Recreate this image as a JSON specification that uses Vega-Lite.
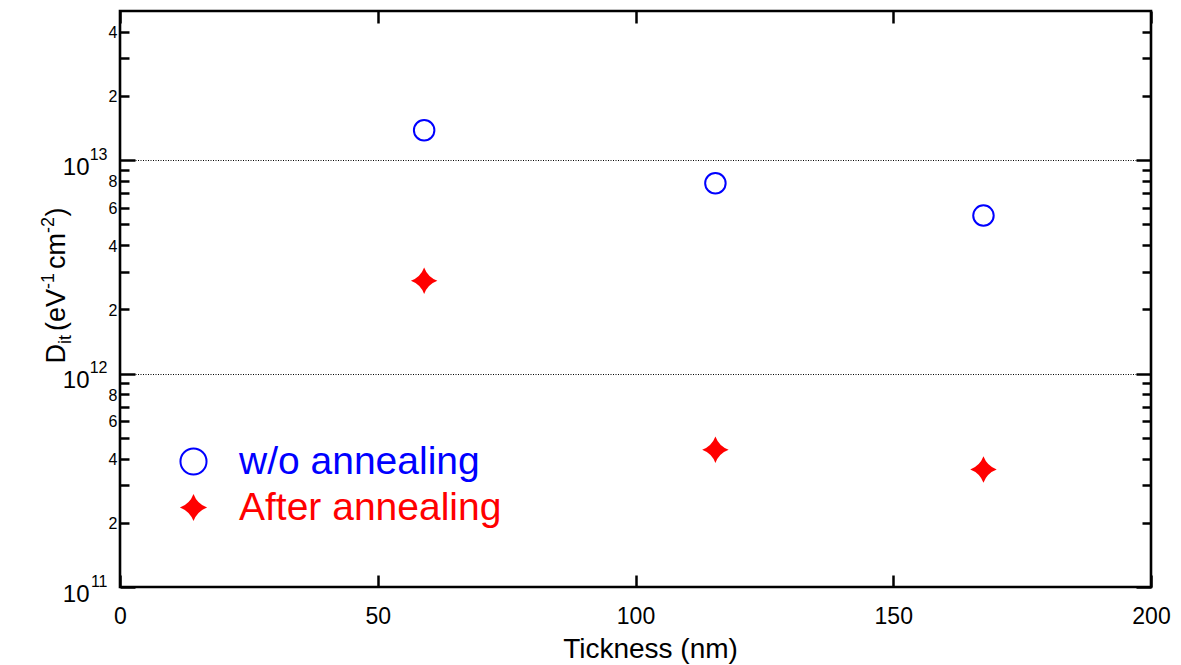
{
  "$schema": "https://vega.github.io/schema/vega-lite/v6.json",
  "autosize": {"type": "none"},
  "padding": {"left": 120, "top": 11, "right": 30, "bottom": 78},
  "width": 1031,
  "height": 576,
  "config": {
    "view": {"stroke": "#000", "strokeWidth": 2.6},
    "font": "Liberation Sans",
    "axis": {"labelFont": "Liberation Sans", "titleFont": "Liberation Sans", "labelColor": "#000", "titleColor": "#000", "titleFontWeight": "normal", "labelFlush": false, "labelOverlap": false, "labelBound": false}
  },
  "data": {"values": [
    {"t": 59, "dit": 1.38e13, "series": "w/o annealing"},
    {"t": 115.5, "dit": 7.8e12, "series": "w/o annealing"},
    {"t": 167.5, "dit": 5.5e12, "series": "w/o annealing"},
    {"t": 59, "dit": 2.72e12, "series": "After annealing"},
    {"t": 115.5, "dit": 4.4e11, "series": "After annealing"},
    {"t": 167.5, "dit": 3.55e11, "series": "After annealing"}
  ]},
  "resolve": {"scale": {"x": "shared", "y": "shared", "color": "independent", "shape": "independent"}, "axis": {"x": "independent", "y": "independent"}, "legend": {"color": "independent", "shape": "independent"}},
  "layer": [
    {
      "transform": [{"filter": "datum.series === 'w/o annealing'"}],
      "mark": {"type": "point", "filled": false, "size": 420, "strokeWidth": 2, "opacity": 1},
      "encoding": {
        "x": {"field": "t", "type": "quantitative", "scale": {"type": "linear", "domain": [0, 200], "nice": false, "zero": false},
          "axis": {"orient": "bottom", "values": [0, 50, 100, 150, 200], "tickSize": -12, "tickWidth": 2.5, "tickColor": "#000", "domain": false, "grid": false, "labelFontSize": 23, "labelPadding": 30, "title": "Tickness (nm)", "titleFontSize": 28, "titleX": 530, "titleY": 70, "titleBaseline": "alphabetic", "titleAlign": "center"}},
        "y": {"field": "dit", "type": "quantitative", "scale": {"type": "log", "domain": [1e11, 5e13], "nice": false},
          "axis": {"orient": "left",
            "values": [1e11, 2e11, 3e11, 4e11, 5e11, 6e11, 7e11, 8e11, 9e11, 1e12, 2e12, 3e12, 4e12, 5e12, 6e12, 7e12, 8e12, 9e12, 1e13, 2e13, 3e13, 4e13],
            "labelExpr": "abs(log(datum.value)/LN10 - round(log(datum.value)/LN10)) < 0.001 ? '10' : (round(datum.value / pow(10, floor(log(datum.value)/LN10 + 0.001))) % 2 == 0 ? '' + round(datum.value / pow(10, floor(log(datum.value)/LN10 + 0.001))) : '')",
            "tickSize": {"condition": {"test": "abs(log(datum.value)/LN10 - round(log(datum.value)/LN10)) < 0.001", "value": -15}, "value": -9},
            "labelPadding": {"condition": {"test": "abs(log(datum.value)/LN10 - round(log(datum.value)/LN10)) < 0.001", "value": 46}, "value": 12},
            "labelFontSize": {"condition": {"test": "abs(log(datum.value)/LN10 - round(log(datum.value)/LN10)) < 0.001", "value": 24}, "value": 16},
            "labelOffset": {"condition": {"test": "abs(log(datum.value)/LN10 - round(log(datum.value)/LN10)) < 0.001", "value": 7}, "value": 1},
            "gridOpacity": {"condition": {"test": "abs(log(datum.value)/LN10 - round(log(datum.value)/LN10)) < 0.001", "value": 1}, "value": 0},
            "tickWidth": 2.5, "tickColor": "#000", "domain": false, "labelBaseline": "middle", "labelAlign": "right",
            "grid": true, "gridColor": "#000", "gridWidth": 1, "gridDash": [1, 1.5],
            "title": "D", "titleFontSize": 27, "titleX": -56, "titleY": 352, "titleAngle": 270, "titleAlign": "left", "titleBaseline": "alphabetic"}},
        "shape": {"field": "series", "type": "nominal", "scale": {"domain": ["w/o annealing"], "range": ["circle"]},
          "legend": {"title": null, "orient": "none", "legendX": 54, "legendY": 431, "symbolSize": 680, "labelFontSize": 39, "labelFont": "Liberation Sans", "labelColor": "#0000ff", "labelOffset": 26, "padding": 0, "symbolStrokeWidth": 2, "labelLimit": 0}},
        "color": {"field": "series", "type": "nominal", "scale": {"domain": ["w/o annealing"], "range": ["#0000ff"]},
          "legend": {"title": null, "orient": "none", "legendX": 54, "legendY": 431, "symbolSize": 680, "labelFontSize": 39, "labelFont": "Liberation Sans", "labelColor": "#0000ff", "labelOffset": 26, "padding": 0, "symbolStrokeWidth": 2, "labelLimit": 0}}
      }
    },
    {
      "transform": [{"filter": "datum.series === 'After annealing'"}],
      "mark": {"type": "point", "filled": true, "size": 700, "opacity": 1},
      "encoding": {
        "x": {"field": "t", "type": "quantitative", "scale": {"type": "linear", "domain": [0, 200], "nice": false, "zero": false}, "axis": null},
        "y": {"field": "dit", "type": "quantitative", "scale": {"type": "log", "domain": [1e11, 5e13], "nice": false}, "axis": null},
        "shape": {"field": "series", "type": "nominal", "scale": {"domain": ["After annealing"], "range": ["M0,-1 Q0.27,-0.27 1,0 Q0.27,0.27 0,1 Q-0.27,0.27 -1,0 Q-0.27,-0.27 0,-1 Z"]},
          "legend": {"title": null, "orient": "none", "legendX": 54, "legendY": 477, "symbolSize": 740, "labelFontSize": 39, "labelFont": "Liberation Sans", "labelColor": "#ff0000", "labelOffset": 26, "padding": 0, "labelLimit": 0}},
        "color": {"field": "series", "type": "nominal", "scale": {"domain": ["After annealing"], "range": ["#ff0000"]},
          "legend": {"title": null, "orient": "none", "legendX": 54, "legendY": 477, "symbolSize": 740, "labelFontSize": 39, "labelFont": "Liberation Sans", "labelColor": "#ff0000", "labelOffset": 26, "padding": 0, "labelLimit": 0}}
      }
    },
    {
      "mark": {"type": "point", "opacity": 0},
      "encoding": {
        "x": {"field": "t", "type": "quantitative", "scale": {"type": "linear", "domain": [0, 200], "nice": false, "zero": false}, "axis": null},
        "y": {"field": "dit", "type": "quantitative", "scale": {"type": "log", "domain": [1e11, 5e13], "nice": false},
          "axis": {"orient": "left", "values": [1e11, 1e12, 1e13], "labelExpr": "'' + round(log(datum.value)/LN10)", "ticks": false, "domain": false, "grid": false, "labelPadding": 13, "labelFontSize": 16, "labelOffset": -6, "labelBaseline": "middle", "labelAlign": "right",
            "title": "it", "titleFontSize": 18, "titleX": -50, "titleY": 332.5, "titleAngle": 270, "titleAlign": "left", "titleBaseline": "alphabetic"}}
      }
    },
    {
      "mark": {"type": "point", "opacity": 0},
      "encoding": {
        "x": {"field": "t", "type": "quantitative", "scale": {"type": "linear", "domain": [0, 200], "nice": false, "zero": false}, "axis": null},
        "y": {"field": "dit", "type": "quantitative", "scale": {"type": "log", "domain": [1e11, 5e13], "nice": false},
          "axis": {"orient": "left", "labels": false, "ticks": false, "domain": false, "grid": false, "title": "(eV", "titleFontSize": 27, "titleX": -56, "titleY": 319.5, "titleAngle": 270, "titleAlign": "left", "titleBaseline": "alphabetic"}}
      }
    },
    {
      "mark": {"type": "point", "opacity": 0},
      "encoding": {
        "x": {"field": "t", "type": "quantitative", "scale": {"type": "linear", "domain": [0, 200], "nice": false, "zero": false}, "axis": null},
        "y": {"field": "dit", "type": "quantitative", "scale": {"type": "log", "domain": [1e11, 5e13], "nice": false},
          "axis": {"orient": "left", "labels": false, "ticks": false, "domain": false, "grid": false, "title": "-1", "titleFontSize": 18, "titleX": -67, "titleY": 277.5, "titleAngle": 270, "titleAlign": "left", "titleBaseline": "alphabetic"}}
      }
    },
    {
      "mark": {"type": "point", "opacity": 0},
      "encoding": {
        "x": {"field": "t", "type": "quantitative", "scale": {"type": "linear", "domain": [0, 200], "nice": false, "zero": false}, "axis": null},
        "y": {"field": "dit", "type": "quantitative", "scale": {"type": "log", "domain": [1e11, 5e13], "nice": false},
          "axis": {"orient": "left", "labels": false, "ticks": false, "domain": false, "grid": false, "title": "cm", "titleFontSize": 27, "titleX": -56, "titleY": 257.5, "titleAngle": 270, "titleAlign": "left", "titleBaseline": "alphabetic"}}
      }
    },
    {
      "mark": {"type": "point", "opacity": 0},
      "encoding": {
        "x": {"field": "t", "type": "quantitative", "scale": {"type": "linear", "domain": [0, 200], "nice": false, "zero": false}, "axis": null},
        "y": {"field": "dit", "type": "quantitative", "scale": {"type": "log", "domain": [1e11, 5e13], "nice": false},
          "axis": {"orient": "left", "labels": false, "ticks": false, "domain": false, "grid": false, "title": "-2", "titleFontSize": 18, "titleX": -67, "titleY": 221.5, "titleAngle": 270, "titleAlign": "left", "titleBaseline": "alphabetic"}}
      }
    },
    {
      "mark": {"type": "point", "opacity": 0},
      "encoding": {
        "x": {"field": "t", "type": "quantitative", "scale": {"type": "linear", "domain": [0, 200], "nice": false, "zero": false}, "axis": null},
        "y": {"field": "dit", "type": "quantitative", "scale": {"type": "log", "domain": [1e11, 5e13], "nice": false},
          "axis": {"orient": "left", "labels": false, "ticks": false, "domain": false, "grid": false, "title": ")", "titleFontSize": 27, "titleX": -56, "titleY": 205, "titleAngle": 270, "titleAlign": "left", "titleBaseline": "alphabetic"}}
      }
    },
    {
      "mark": {"type": "point", "opacity": 0},
      "encoding": {
        "x": {"field": "t", "type": "quantitative", "scale": {"type": "linear", "domain": [0, 200], "nice": false, "zero": false}, "axis": null},
        "y": {"field": "dit", "type": "quantitative", "scale": {"type": "log", "domain": [1e11, 5e13], "nice": false},
          "axis": {"orient": "right",
            "values": [1e11, 2e11, 3e11, 4e11, 5e11, 6e11, 7e11, 8e11, 9e11, 1e12, 2e12, 3e12, 4e12, 5e12, 6e12, 7e12, 8e12, 9e12, 1e13, 2e13, 3e13, 4e13],
            "tickSize": {"condition": {"test": "abs(log(datum.value)/LN10 - round(log(datum.value)/LN10)) < 0.001", "value": -15}, "value": -9},
            "tickWidth": 2.5, "tickColor": "#000", "labels": false, "domain": false, "grid": false, "title": null}}
      }
    },
    {
      "mark": {"type": "point", "opacity": 0},
      "encoding": {
        "x": {"field": "t", "type": "quantitative", "scale": {"type": "linear", "domain": [0, 200], "nice": false, "zero": false},
          "axis": {"orient": "top", "values": [0, 50, 100, 150, 200], "tickSize": -12, "tickWidth": 2.5, "tickColor": "#000", "labels": false, "domain": false, "grid": false, "title": null}},
        "y": {"field": "dit", "type": "quantitative", "scale": {"type": "log", "domain": [1e11, 5e13], "nice": false}, "axis": null}
      }
    }
  ]
}
